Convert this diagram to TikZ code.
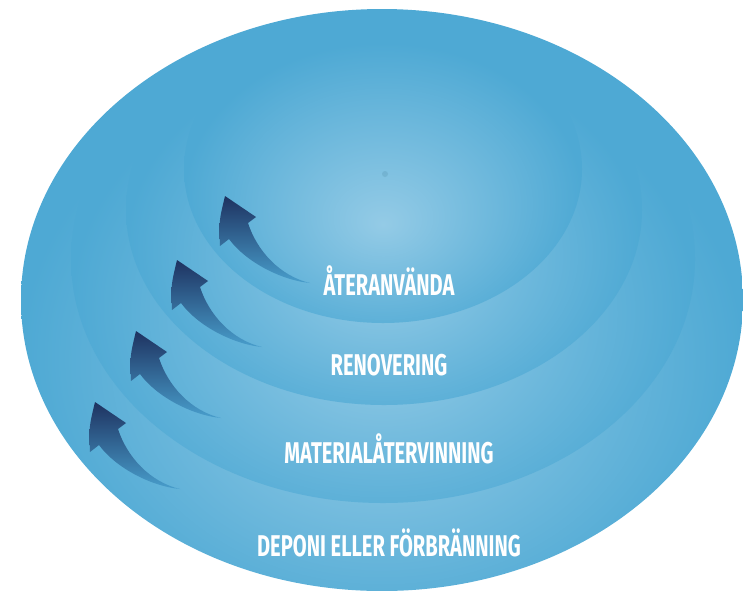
\documentclass[tikz,border=0pt]{standalone}
\usepackage{fontspec}
\newfontfamily\capsfont[FakeStretch=0.67]{Fira Sans}
\usetikzlibrary{positioning}

\definecolor{bowldark}{RGB}{78,169,212}
\definecolor{bowllight}{RGB}{148,203,230}
\definecolor{arrowdark}{RGB}{30,50,96}
\definecolor{arrowlight}{RGB}{72,158,204}

\pgfdeclareradialshading{bowlshade}{\pgfpoint{0bp}{-9bp}}{color(0bp)=(bowllight); color(25bp)=(bowldark); color(50bp)=(bowldark)}

\begin{document}
\begin{tikzpicture}[x=1pt, y=-1pt,
    bowl/.style={shading=bowlshade},
    level/.style={text=white, anchor=base, inner sep=0pt,
                  font=\capsfont\bfseries\fontsize{30}{30}\selectfont},
    swoosh/.pic={
        \shade[top color=arrowdark, bottom color=arrowlight]
            (0,0) -- (31,21) -- (23,27)
            .. controls (32,55) and (55,80) .. (85,87)
            .. controls (55,84) and (20,65) .. (4,43)
            -- (-5,50) .. controls (-6,25) .. (0,0) -- cycle;
    }]
        \useasboundingbox (0,0) rectangle (743,590);

        % nested bowls, outermost first
        \shade[bowl] (382,300) ellipse [x radius=361, y radius=291];
        \shade[bowl] (383,259) ellipse [x radius=312, y radius=244];
        \shade[bowl] (384,210) ellipse [x radius=258, y radius=195];
        \shade[bowl] (383,169) ellipse [x radius=199, y radius=154];

        \fill[bowldark!60!black, opacity=.15] (385,174) circle (3);

        \pic at (225,196) {swoosh};
        \pic at (177,260) {swoosh};
        \pic at (136,331) {swoosh};
        \pic at (95,402) {swoosh};

        \node[level] (t_1) at (389,295) {ÅTERANVÄNDA};
        \node[level] (t_2) at (389,375) {RENOVERING};
        \node[level] (t_3) at (389,463) {MATERIALÅTERVINNING};
        \node[level] (t_4) at (389,556) {DEPONI ELLER FÖRBRÄNNING};

    \end{tikzpicture}
\end{document}
